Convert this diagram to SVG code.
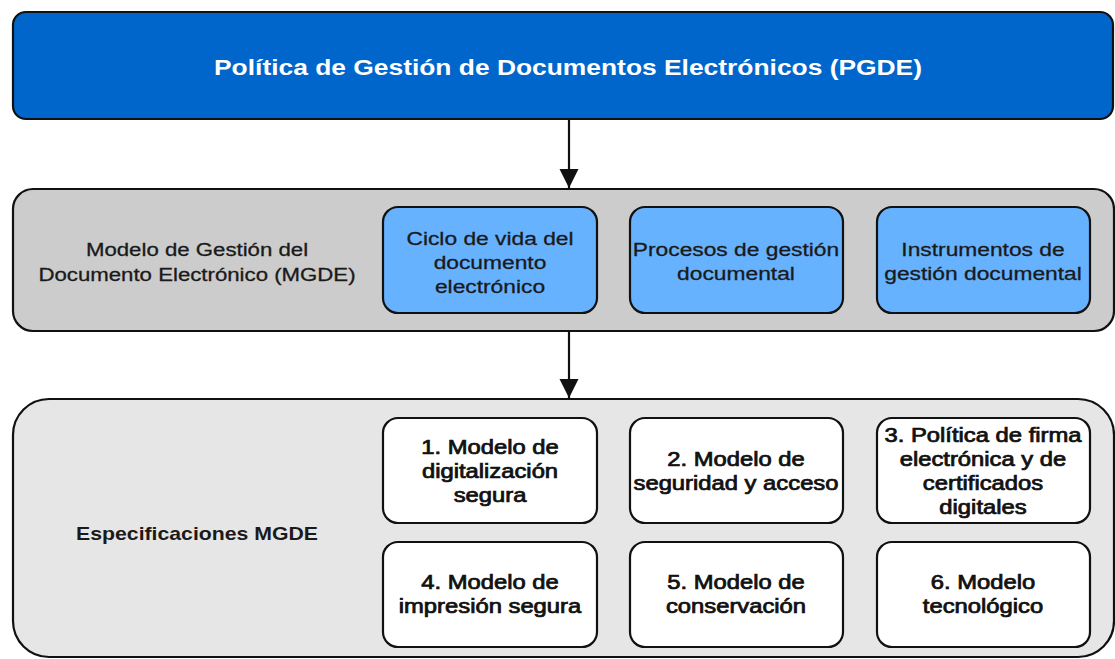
<svg xmlns="http://www.w3.org/2000/svg" width="1115" height="659" viewBox="0 0 1115 659">
<defs>
<style>
.frame{stroke:#111;stroke-width:2.2}
.t{font-family:"Liberation Sans",Arial,sans-serif;text-anchor:middle;fill:#1a1a1a}
.r{font-size:19px;stroke:#1a1a1a;stroke-width:0.3}
.m{font-size:19.5px;stroke:#111;stroke-width:0.75;fill:#111}
.b{font-size:18px;font-weight:bold}
.title{font-size:22px;font-weight:bold;fill:#fff}
.blue{fill:#66B2FF}
.white{fill:#fff}
.conn{stroke:#111;stroke-width:2.2;fill:none}
</style>
<marker id="arr" markerUnits="userSpaceOnUse" markerWidth="20" markerHeight="20" refX="19" refY="9.5" orient="auto" viewBox="0 0 20 19">
<path d="M0,0 L19,9.5 L0,19 Z" fill="#111"/>
</marker>
</defs>
<rect width="1115" height="659" fill="#fff"/>

<g id="connectors">
<line class="conn" x1="569" y1="119" x2="569" y2="188" marker-end="url(#arr)"/>
<line class="conn" x1="569" y1="331" x2="569" y2="398" marker-end="url(#arr)"/>
</g>

<g id="pgde">
<rect class="frame" x="13" y="12" width="1100" height="107" rx="13" fill="#0066CC"/>
<text class="t title" transform="translate(568 0) scale(1.2 1)" x="0" y="75">Política de Gestión de Documentos Electrónicos (PGDE)</text>
</g>

<g id="mgde">
<rect class="frame" x="13" y="189" width="1101" height="142" rx="20" fill="#CCCCCC"/>
<text class="t r" transform="translate(197 0) scale(1.17 1)"><tspan x="0" y="256">Modelo de Gestión del</tspan><tspan x="0" y="281">Documento Electrónico (MGDE)</tspan></text>
</g>

<g id="ciclo">
<rect class="frame blue" x="383" y="207" width="214" height="106" rx="15"/>
<text class="t r" transform="translate(490 0) scale(1.2 1)"><tspan x="0" y="245">Ciclo de vida del</tspan><tspan x="0" y="269">documento</tspan><tspan x="0" y="293">electrónico</tspan></text>
</g>
<g id="procesos">
<rect class="frame blue" x="630" y="207" width="213" height="106" rx="15"/>
<text class="t r" transform="translate(736 0) scale(1.2 1)"><tspan x="0" y="256">Procesos de gestión</tspan><tspan x="0" y="280">documental</tspan></text>
</g>
<g id="instrumentos">
<rect class="frame blue" x="877" y="207" width="213" height="106" rx="15"/>
<text class="t r" transform="translate(983 0) scale(1.2 1)"><tspan x="0" y="256">Instrumentos de</tspan><tspan x="0" y="280">gestión documental</tspan></text>
</g>

<g id="especificaciones">
<rect class="frame" x="13" y="399" width="1101" height="258" rx="36" fill="#E6E6E6"/>
<text class="t b" transform="translate(197 0) scale(1.18 1)" x="0" y="540">Especificaciones MGDE</text>
</g>

<g id="spec1">
<rect class="frame white" x="383" y="418" width="214" height="105" rx="15"/>
<text class="t m" transform="translate(490 0) scale(1.22 1)"><tspan x="0" y="454">1. Modelo de</tspan><tspan x="0" y="478">digitalización</tspan><tspan x="0" y="502">segura</tspan></text>
</g>
<g id="spec2">
<rect class="frame white" x="630" y="418" width="213" height="105" rx="15"/>
<text class="t m" transform="translate(736 0) scale(1.22 1)"><tspan x="0" y="466">2. Modelo de</tspan><tspan x="0" y="490">seguridad y acceso</tspan></text>
</g>
<g id="spec3">
<rect class="frame white" x="877" y="418" width="213" height="105" rx="15"/>
<text class="t m" transform="translate(983 0) scale(1.22 1)"><tspan x="0" y="442">3. Política de firma</tspan><tspan x="0" y="466">electrónica y de</tspan><tspan x="0" y="490">certificados</tspan><tspan x="0" y="514">digitales</tspan></text>
</g>
<g id="spec4">
<rect class="frame white" x="383" y="542" width="214" height="105" rx="15"/>
<text class="t m" transform="translate(490 0) scale(1.22 1)"><tspan x="0" y="589">4. Modelo de</tspan><tspan x="0" y="613">impresión segura</tspan></text>
</g>
<g id="spec5">
<rect class="frame white" x="630" y="542" width="213" height="105" rx="15"/>
<text class="t m" transform="translate(736 0) scale(1.22 1)"><tspan x="0" y="589">5. Modelo de</tspan><tspan x="0" y="613">conservación</tspan></text>
</g>
<g id="spec6">
<rect class="frame white" x="877" y="542" width="213" height="105" rx="15"/>
<text class="t m" transform="translate(983 0) scale(1.22 1)"><tspan x="0" y="589">6. Modelo</tspan><tspan x="0" y="613">tecnológico</tspan></text>
</g>
</svg>
